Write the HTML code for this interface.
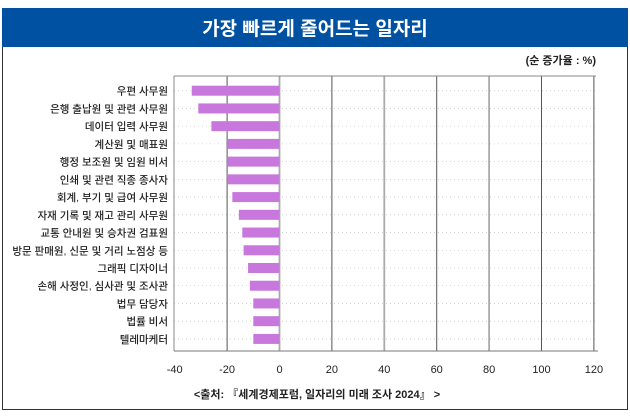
<!DOCTYPE html>
<html><head><meta charset="utf-8"><style>
body{margin:0;width:630px;height:415px;background:#fff;font-family:"Liberation Sans","Noto Sans CJK KR",sans-serif;overflow:hidden}
</style></head><body>
<svg width="630" height="415" xmlns="http://www.w3.org/2000/svg">
<rect x="2.5" y="8.5" width="625" height="401" fill="#fff" stroke="#333" stroke-width="1"/>
<rect x="2" y="8" width="626" height="39" fill="#0051a2"/>
<text x="315" y="35" text-anchor="middle" fill="#fff" font-size="19" font-weight="bold" font-family="Liberation Sans, Noto Sans CJK KR, sans-serif">가장 빠르게 줄어드는 일자리</text>
<text x="596" y="64" text-anchor="end" fill="#222" font-size="11" font-weight="bold" font-family="Liberation Sans, Noto Sans CJK KR, sans-serif">(순 증가율 : %)</text>
<g id="plot"></g>
<text x="317" y="398" text-anchor="middle" fill="#222" font-size="11" font-weight="bold" font-family="Liberation Sans, Noto Sans CJK KR, sans-serif">&lt;출처: 『세계경제포럼, 일자리의 미래 조사 2024』 &gt;</text>
</svg>
<script>
const categories=["우편 사무원","은행 출납원 및 관련 사무원","데이터 입력 사무원","계산원 및 매표원","행정 보조원 및 임원 비서","인쇄 및 관련 직종 종사자","회계, 부기 및 급여 사무원","자재 기록 및 재고 관리 사무원","교통 안내원 및 승차권 검표원","방문 판매원, 신문 및 거리 노점상 등","그래픽 디자이너","손해 사정인, 심사관 및 조사관","법무 담당자","법률 비서","텔레마케터"];
const values=[-33.5,-31,-26,-20,-20,-20,-18,-15.5,-14.2,-13.7,-12,-11.3,-10,-10,-10];
const ticks=[-40,-20,0,20,40,60,80,100,120];
const NS="http://www.w3.org/2000/svg";
const plotG=document.getElementById('plot');
const xs=v=>279.5+v*2.62;
const plotTop=76,plotBot=351,y0=90.7,step=17.73;
const ys=i=>y0+i*step;
function el(t,a){const e=document.createElementNS(NS,t);for(const k in a)e.setAttribute(k,a[k]);plotG.appendChild(e);return e;}
categories.forEach((c,i)=>{
  const l=el('line',{x1:174,x2:596,y1:ys(i),y2:ys(i),stroke:'#ccc','stroke-width':0.8,'stroke-dasharray':'1,3'});
  
  
});
ticks.forEach((t)=>{
  const light=(t===0||t===40||t===80);
  if(t>-40){
    const l=el('line',{x1:xs(t),x2:xs(t),y1:plotTop,y2:plotBot,stroke:light?'#aaa':'#555','stroke-width':light?1.8:1});
    
    
  }
  const tx=el('text',{x:xs(t),y:373,'text-anchor':'middle','font-size':11,fill:'#222'});
  tx.textContent=t;
  
  
});
const topBorder=el('line',{x1:174,x2:596,y1:plotTop,y2:plotTop,stroke:'#888','stroke-width':1});


const yAxisLine=el('line',{x1:174,x2:174,y1:plotTop,y2:plotBot,stroke:'#888','stroke-width':1});


const xAxisLine=el('line',{x1:174,x2:598,y1:plotBot,y2:plotBot,stroke:'#777','stroke-width':1});


categories.forEach((c,i)=>{
  const v=values[i];
  const b=el('rect',{x:Math.min(xs(v),xs(0)),y:ys(i)-5,width:Math.abs(xs(v)-xs(0)),height:10,fill:'#c878dc'});
  
  
  const t=el('text',{x:168,y:ys(i)+4,'text-anchor':'end','font-size':10.5,fill:'#222','font-weight':500});
  t.textContent=c;
  
  
});
</script>
</body></html>
